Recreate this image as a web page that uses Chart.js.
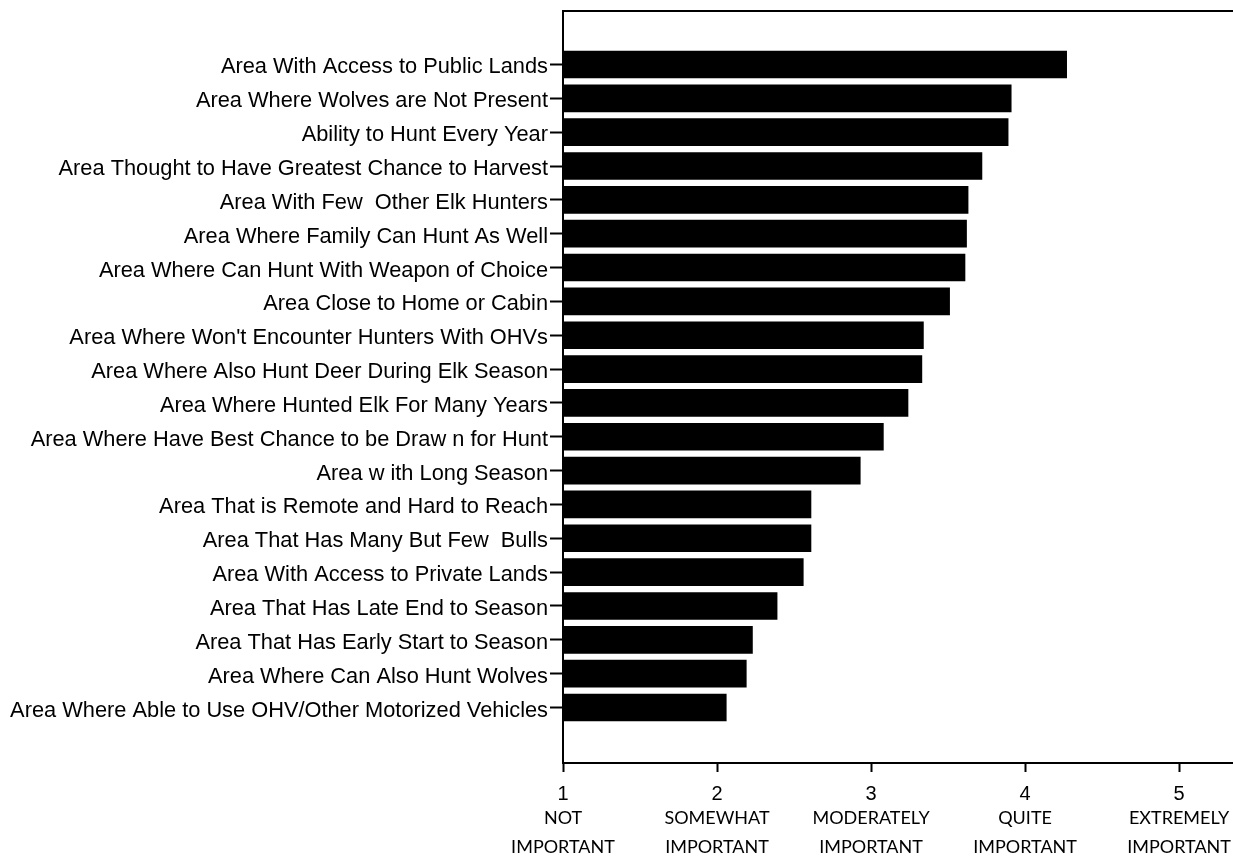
<!DOCTYPE html>
<html>
<head>
<meta charset="utf-8">
<script src="https://cdn.jsdelivr.net/npm/chart.js@4"></script>
<style>
  html, body { margin: 0; padding: 0; background: #fff; }
  #wrap { width: 1233px; height: 857px; position: relative; }
</style>
</head>
<body>
<div id="wrap"><canvas id="elkChart"></canvas></div>
<script>
const reasons = [
    "Area With Access to Public Lands",
    "Area Where Wolves are Not Present",
    "Ability to Hunt Every Year",
    "Area Thought to Have Greatest Chance to Harvest",
    "Area With Few  Other Elk Hunters",
    "Area Where Family Can Hunt As Well",
    "Area Where Can Hunt With Weapon of Choice",
    "Area Close to Home or Cabin",
    "Area Where Won't Encounter Hunters With OHVs",
    "Area Where Also Hunt Deer During Elk Season",
    "Area Where Hunted Elk For Many Years",
    "Area Where Have Best Chance to be Draw n for Hunt",
    "Area w ith Long Season",
    "Area That is Remote and Hard to Reach",
    "Area That Has Many But Few  Bulls",
    "Area With Access to Private Lands",
    "Area That Has Late End to Season",
    "Area That Has Early Start to Season",
    "Area Where Can Also Hunt Wolves",
    "Area Where Able to Use OHV/Other Motorized Vehicles"
];

const meanImportance = [4.27, 3.91, 3.89, 3.72, 3.63, 3.62, 3.61, 3.51, 3.34, 3.33,
                        3.24, 3.08, 2.93, 2.61, 2.61, 2.56, 2.39, 2.23, 2.19, 2.06];

const scaleValues = [1, 2, 3, 4, 5];
const scaleWords = [
    ["NOT", "IMPORTANT"],
    ["SOMEWHAT", "IMPORTANT"],
    ["MODERATELY", "IMPORTANT"],
    ["QUITE", "IMPORTANT"],
    ["EXTREMELY", "IMPORTANT"]
];

// bars sit on a numeric row index (1 = top) so the empty band above/below can be matched
const points = meanImportance.map((v, i) => ({ x: v, y: i + 1 }));

// draws the word labels under the numbers, plus the top frame line
const extrasPlugin = {
    id: 'extras',
    afterDraw(chart) {
        const c = chart.ctx;
        const xs = chart.scales.x;
        const area = chart.chartArea;
        c.save();
        c.strokeStyle = '#000';
        c.lineWidth = 2;
        c.beginPath();
        c.moveTo(area.left - 1, area.top);
        c.lineTo(area.right, area.top);
        c.stroke();

        c.fillStyle = '#000';
        c.font = '18px Lato';
        c.textAlign = 'center';
        c.textBaseline = 'middle';
        scaleValues.forEach((v, i) => {
            const px = xs.getPixelForValue(v);
            c.fillText(scaleWords[i][0], px, 818);
            c.fillText(scaleWords[i][1], px, 847);
        });
        c.restore();
    }
};

new Chart(document.getElementById('elkChart'), {
    type: 'bar',
    data: {
        datasets: [{
            data: points,
            backgroundColor: '#000',
            borderWidth: 0,
            barThickness: 27
        }]
    },
    options: {
        indexAxis: 'y',
        responsive: true,
        maintainAspectRatio: false,
        animation: false,
        layout: { padding: { top: 11, right: 0, bottom: 41, left: 0 } },
        plugins: {
            legend: { display: false },
            tooltip: { enabled: false }
        },
        scales: {
            x: {
                type: 'linear',
                min: 1,
                max: 5.35,
                afterBuildTicks: s => { s.ticks = scaleValues.map(v => ({ value: v })); },
                ticks: {
                    color: '#000',
                    font: { family: 'Liberation Sans', size: 20 },
                    padding: 10,
                    maxRotation: 0
                },
                grid: {
                    drawOnChartArea: false,
                    drawTicks: true,
                    tickLength: 9,
                    tickWidth: 2,
                    tickColor: '#000'
                },
                border: { display: true, color: '#000', width: 2 }
            },
            y: {
                type: 'linear',
                reverse: true,
                offset: false,
                min: -0.58,
                max: 21.64,
                afterBuildTicks: s => { s.ticks = reasons.map((r, i) => ({ value: i + 1 })); },
                afterFit: s => {
                    s.width = 563;
                    s.paddingTop = 0;
                    s.paddingBottom = 0;
                },
                ticks: {
                    color: '#000',
                    font: { family: 'Liberation Sans', size: 21.8 },
                    padding: 2,
                    labelOffset: 3,
                    autoSkip: false,
                    callback: v => reasons[v - 1] || ''
                },
                grid: {
                    offset: false,
                    drawOnChartArea: false,
                    drawTicks: true,
                    tickLength: 13,
                    tickWidth: 2,
                    tickColor: '#000'
                },
                border: { display: true, color: '#000', width: 2 }
            }
        }
    },
    plugins: [extrasPlugin]
});
</script>
</body>
</html>
